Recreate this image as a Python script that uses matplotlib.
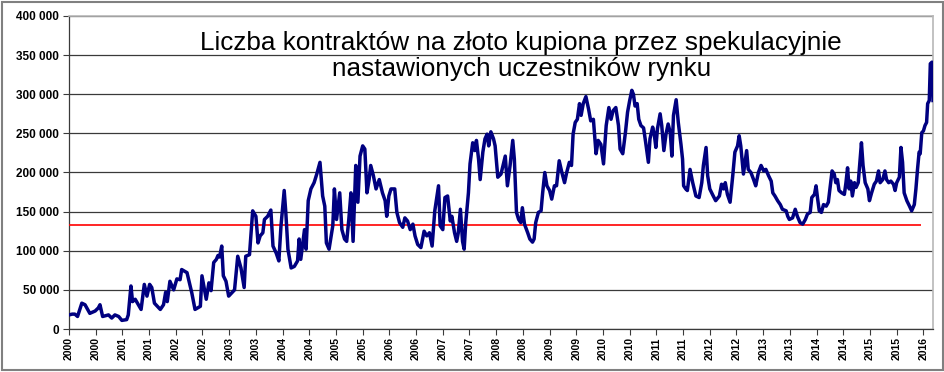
import numpy as np
import matplotlib
matplotlib.use("Agg")
import matplotlib.pyplot as plt
from matplotlib.patches import Rectangle
from matplotlib.ticker import FuncFormatter

plt.rcParams['font.family'] = ['Liberation Sans', 'DejaVu Sans']

title = "Liczba kontraktów na złoto kupiona przez spekulacyjnie\nnastawionych uczestników rynku"

# decimal year of each read point, value in thousands of contracts
years = [
    2000.00, 2000.06, 2000.11, 2000.16, 2000.24, 2000.30, 2000.39, 2000.49, 2000.55, 2000.58,
    2000.63, 2000.74, 2000.80, 2000.86, 2000.93, 2000.99, 2001.08, 2001.11, 2001.16, 2001.19,
    2001.24, 2001.30, 2001.35, 2001.41, 2001.46, 2001.51, 2001.55, 2001.60, 2001.71, 2001.77,
    2001.81, 2001.84, 2001.89, 2001.96, 2002.02, 2002.08, 2002.11, 2002.21, 2002.30, 2002.36,
    2002.46, 2002.49, 2002.57, 2002.62, 2002.66, 2002.71, 2002.76, 2002.79, 2002.82, 2002.86,
    2002.89, 2002.94, 2002.99, 2003.10, 2003.16, 2003.22, 2003.28, 2003.31, 2003.38, 2003.44,
    2003.50, 2003.54, 2003.58, 2003.63, 2003.66, 2003.72, 2003.78, 2003.82, 2003.88, 2003.93,
    2003.97, 2004.03, 2004.06, 2004.10, 2004.16, 2004.22, 2004.28, 2004.31, 2004.34, 2004.41,
    2004.44, 2004.48, 2004.53, 2004.59, 2004.64, 2004.70, 2004.75, 2004.79, 2004.82, 2004.87,
    2004.94, 2004.97, 2005.01, 2005.07, 2005.11, 2005.16, 2005.20, 2005.24, 2005.28, 2005.32,
    2005.37, 2005.41, 2005.45, 2005.50, 2005.54, 2005.58, 2005.62, 2005.65, 2005.70, 2005.75,
    2005.81, 2005.87, 2005.92, 2005.95, 2005.99, 2006.03, 2006.10, 2006.14, 2006.19, 2006.25,
    2006.29, 2006.34, 2006.39, 2006.44, 2006.48, 2006.53, 2006.59, 2006.65, 2006.70, 2006.75,
    2006.80, 2006.85, 2006.92, 2006.95, 2007.00, 2007.04, 2007.09, 2007.14, 2007.17, 2007.22,
    2007.26, 2007.29, 2007.33, 2007.37, 2007.40, 2007.43, 2007.48, 2007.51, 2007.56, 2007.60,
    2007.63, 2007.67, 2007.70, 2007.75, 2007.79, 2007.83, 2007.86, 2007.90, 2007.95, 2007.98,
    2008.03, 2008.09, 2008.17, 2008.21, 2008.26, 2008.31, 2008.34, 2008.38, 2008.42, 2008.46,
    2008.49, 2008.53, 2008.59, 2008.63, 2008.68, 2008.71, 2008.74, 2008.79, 2008.84, 2008.87,
    2008.91, 2008.95, 2009.00, 2009.04, 2009.09, 2009.13, 2009.18, 2009.23, 2009.28, 2009.32,
    2009.37, 2009.41, 2009.44, 2009.48, 2009.52, 2009.56, 2009.59, 2009.63, 2009.68, 2009.73,
    2009.77, 2009.82, 2009.87, 2009.91, 2009.96, 2010.01, 2010.06, 2010.11, 2010.15, 2010.19,
    2010.24, 2010.29, 2010.32, 2010.37, 2010.42, 2010.46, 2010.50, 2010.54, 2010.57, 2010.60,
    2010.64, 2010.67, 2010.71, 2010.76, 2010.80, 2010.85, 2010.88, 2010.93, 2010.96, 2010.99,
    2011.02, 2011.07, 2011.10, 2011.14, 2011.18, 2011.22, 2011.26, 2011.29, 2011.32, 2011.37,
    2011.41, 2011.46, 2011.49, 2011.51, 2011.55, 2011.58, 2011.63, 2011.68, 2011.74, 2011.80,
    2011.85, 2011.88, 2011.93, 2011.96, 2012.00, 2012.05, 2012.11, 2012.18, 2012.22, 2012.26,
    2012.29, 2012.33, 2012.38, 2012.43, 2012.47, 2012.52, 2012.55, 2012.58, 2012.63, 2012.66,
    2012.69, 2012.72, 2012.77, 2012.82, 2012.86, 2012.91, 2012.96, 2013.01, 2013.05, 2013.10,
    2013.15, 2013.18, 2013.22, 2013.27, 2013.32, 2013.36, 2013.43, 2013.46, 2013.49, 2013.55,
    2013.60, 2013.64, 2013.69, 2013.74, 2013.79, 2013.83, 2013.88, 2013.91, 2013.96, 2013.99,
    2014.02, 2014.05, 2014.09, 2014.13, 2014.18, 2014.22, 2014.25, 2014.29, 2014.33, 2014.36,
    2014.39, 2014.42, 2014.47, 2014.52, 2014.55, 2014.58, 2014.61, 2014.64, 2014.67, 2014.71,
    2014.74, 2014.78, 2014.81, 2014.84, 2014.87, 2014.91, 2014.96, 2014.99, 2015.03, 2015.08,
    2015.12, 2015.16, 2015.19, 2015.24, 2015.28, 2015.31, 2015.35, 2015.39, 2015.44, 2015.47,
    2015.50, 2015.55, 2015.58, 2015.61, 2015.64, 2015.69, 2015.74, 2015.78, 2015.83, 2015.86,
    2015.89, 2015.92, 2015.94, 2015.97, 2016.00, 2016.03, 2016.06, 2016.08, 2016.11, 2016.13,
    2016.16, 2016.18,
]
contracts_k = [
    18, 19, 19, 16, 33, 31, 20, 23, 27, 31,
    16, 18, 14, 18, 16, 11, 12, 18, 55, 35,
    38, 31, 25, 57, 42, 57, 53, 33, 25, 31,
    47, 35, 61, 50, 64, 63, 76, 72, 46, 25,
    29, 68, 38, 59, 49, 85, 89, 94, 92, 106,
    68, 61, 42, 50, 93, 78, 53, 93, 95, 151,
    144, 110, 119, 123, 140, 144, 152, 106, 97, 87,
    132, 177, 149, 102, 78, 80, 87, 115, 89, 127,
    102, 164, 179, 187, 198, 213, 170, 157, 110, 102,
    132, 179, 140, 174, 127, 115, 112, 140, 174, 112,
    209, 162, 221, 234, 230, 174, 191, 209, 196, 179,
    191, 174, 164, 144, 170, 179, 179, 149, 136, 130,
    142, 138, 127, 134, 119, 108, 104, 125, 119, 123,
    106, 151, 183, 132, 127, 168, 170, 138, 144, 123,
    112, 123, 153, 112, 102, 136, 174, 211, 238, 228,
    241, 217, 191, 226, 243, 249, 234, 252, 243, 234,
    194, 198, 221, 183, 209, 241, 217, 149, 140, 136,
    155, 134, 123, 115, 111, 115, 136, 149, 151, 174,
    200, 183, 177, 166, 183, 183, 215, 200, 187, 200,
    213, 209, 249, 264, 268, 288, 273, 288, 297, 281,
    266, 268, 224, 241, 236, 211, 260, 283, 268, 279,
    283, 260, 230, 224, 251, 277, 292, 305, 300, 285,
    288, 268, 260, 257, 238, 213, 243, 258, 249, 232,
    256, 275, 260, 228, 249, 262, 251, 221, 273, 293,
    264, 236, 217, 183, 179, 177, 204, 187, 170, 168,
    187, 209, 232, 196, 179, 172, 164, 170, 185, 179,
    187, 172, 162, 196, 226, 234, 247, 234, 198, 213,
    228, 204, 200, 191, 183, 200, 209, 202, 204, 196,
    189, 174, 170, 164, 159, 153, 151, 144, 140, 142,
    153, 144, 136, 134, 140, 147, 149, 168, 172, 183,
    166, 151, 149, 159, 157, 162, 179, 202, 198, 187,
    191, 177, 174, 172, 187, 206, 179, 189, 170, 187,
    181, 187, 213, 238, 209, 187, 179, 164, 174, 185,
    189, 202, 187, 191, 202, 191, 187, 189, 185, 177,
    187, 194, 232, 213, 174, 164, 157, 151, 159, 179,
    204, 226, 224, 251, 253, 260, 264, 288, 292, 339,
    341, 292,
]
red_level = 132500
red_start, red_end = 2000.0, 2015.96

x = np.array(years)
y = np.array(contracts_k) * 1000

fig = plt.figure(figsize=(9.45, 3.72), dpi=100)
ax = fig.add_axes([69 / 945, 1 - 329 / 372, 864 / 945, 313 / 372])

ax.hlines(red_level, red_start, red_end, color='#ff0000', lw=1.2, zorder=2.6)
ax.plot(x, y, color='#000080', lw=2.5, zorder=3, solid_joinstyle='round')

ax.set_xlim(2000.0, 2016.18)
ax.set_ylim(0, 400000)
ax.set_yticks(np.arange(0, 400001, 50000))
ax.yaxis.set_major_formatter(FuncFormatter(lambda v, p: f"{int(v):,}".replace(",", " ")))
half_years = np.arange(2000, 2016.01, 0.5)
ax.set_xticks(half_years)
ax.set_xticklabels([str(int(t)) for t in half_years], rotation=90)

ax.grid(axis='y', color='#3a3a3a', lw=0.9)
ax.tick_params(axis='y', direction='out', length=4, width=0.8, color='#3a3a3a',
               labelsize=8.5, pad=3)
ax.tick_params(axis='x', direction='out', length=4, width=0.8, color='#3a3a3a',
               labelsize=7.5, pad=2)
for lab in ax.get_yticklabels() + ax.get_xticklabels():
    lab.set_fontweight('bold')

for side in ['left', 'bottom']:
    ax.spines[side].set_color('#3a3a3a')
    ax.spines[side].set_linewidth(0.9)
for side in ['top', 'right']:
    ax.spines[side].set_color('#b8b8b8')
    ax.spines[side].set_linewidth(1.2)

fig.text(0.5515, 0.918, title, ha='center', va='top', fontsize=18.8, linespacing=1.12)

fig.add_artist(Rectangle((2 / 945, 2 / 372), 941 / 945, 368 / 372, transform=fig.transFigure,
                         fill=False, edgecolor='#808080', lw=1.5))

fig.savefig("out.png", dpi=100)
